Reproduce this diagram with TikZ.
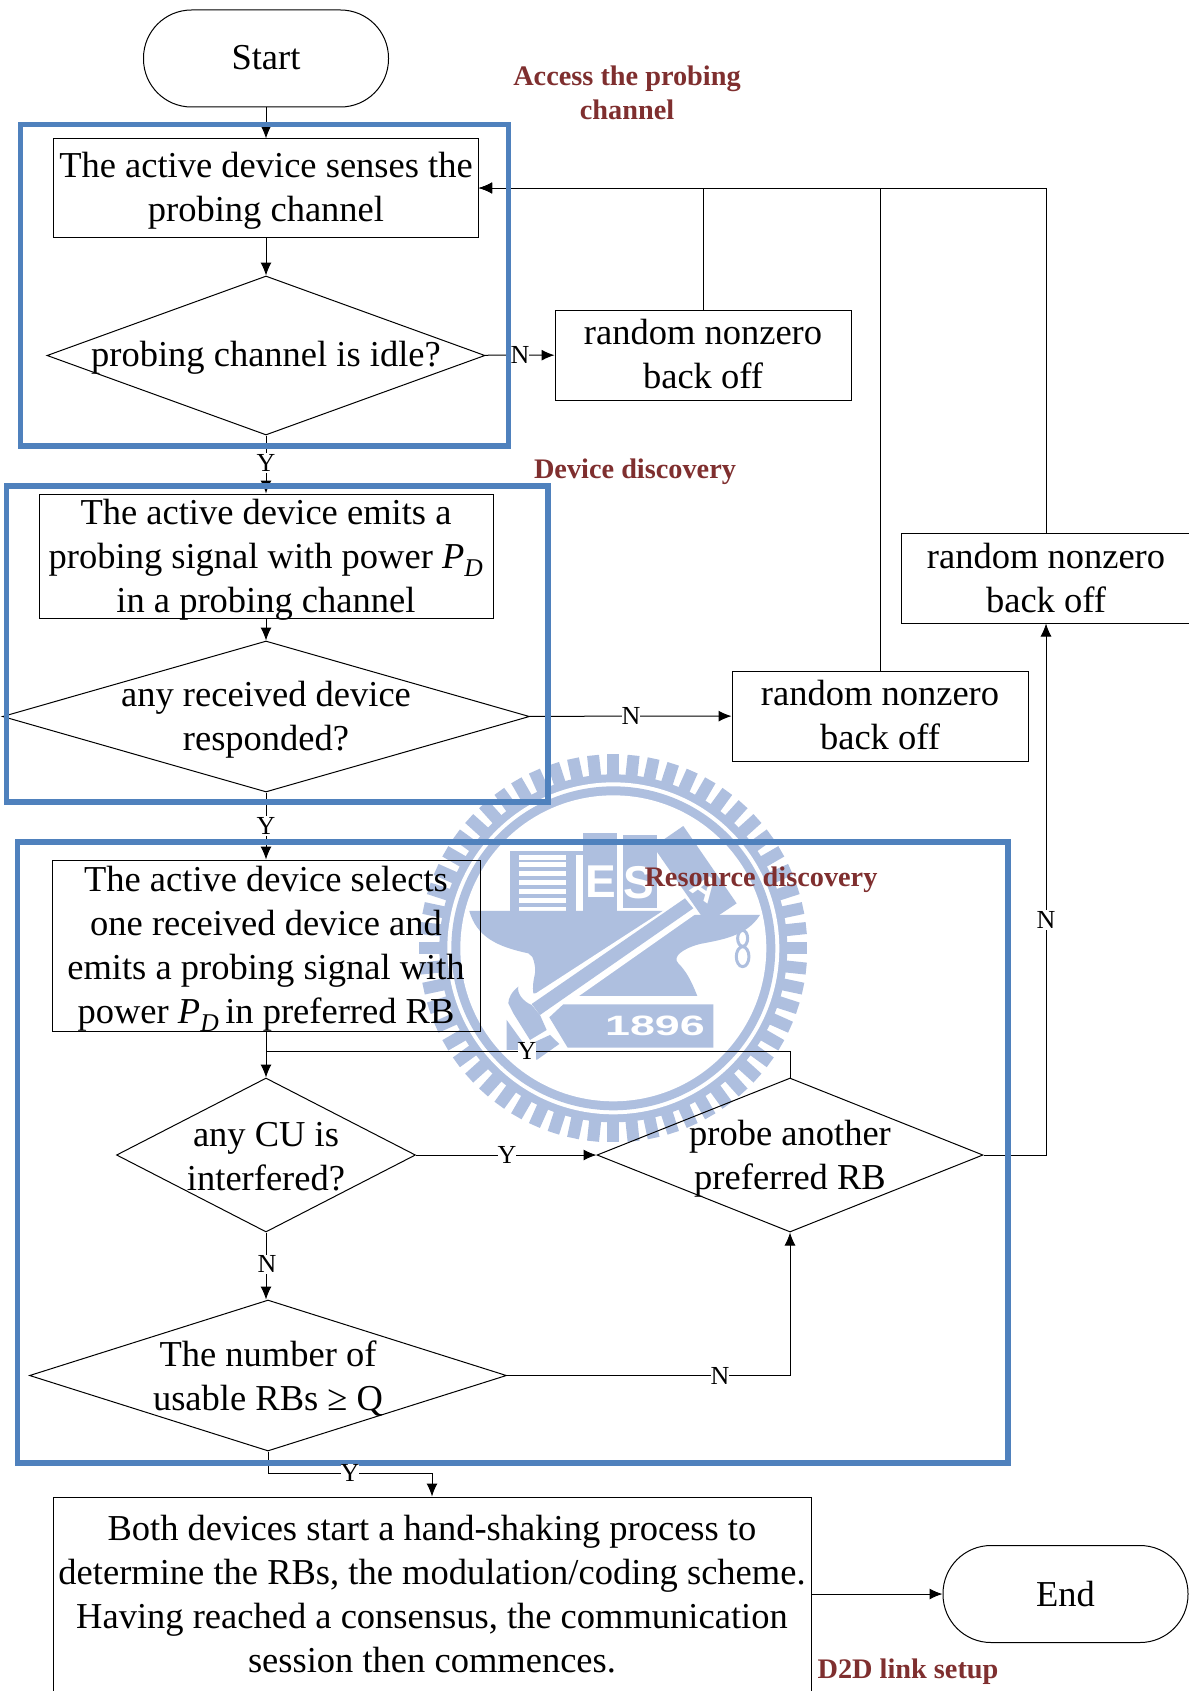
\documentclass[tikz,border=0pt]{standalone}
\usepackage{fontspec}
\setmainfont{Liberation Serif}
\newfontfamily\wmfont{Liberation Sans}
\usetikzlibrary{shapes.geometric,arrows.meta}
\definecolor{framecol}{HTML}{4F81BD}
\definecolor{notecol}{HTML}{7F2F2F}
\definecolor{wmcol}{HTML}{AEBFDF}
\newcommand{\drop}[1]{\rule{0pt}{\dimexpr25pt+#1\relax}}
\newcommand{\lift}[1]{\rule[-#1]{0pt}{0pt}}
\tikzset{
  stepbox/.style={draw,rectangle,inner xsep=0pt,inner ysep=-20pt,align=center,font=\fontsize{36.5}{44}\selectfont},
  endbox/.style={stepbox,rounded corners=48pt,minimum width=245pt,minimum height=97pt},
  backoff/.style={stepbox,minimum width=296pt,minimum height=90pt},
  decision/.style={draw,diamond,inner sep=-60pt,align=center,font=\fontsize{36.5}{44}\selectfont},
  note/.style={text=notecol,align=center,font=\fontsize{28.3}{34.5}\selectfont\bfseries},
  yesno/.style={fill=white,inner xsep=0pt,inner ysep=1pt,font=\fontsize{26}{28}\selectfont},
  frame/.style={draw=framecol,line width=5.5pt},
  link/.style={line width=1pt,-{Latex[length=13pt,width=11pt]}},
  plain/.style={line width=1pt},
  wmtext/.style={text=white,inner sep=0pt,font=\wmfont\bfseries\fontsize{46}{46}\selectfont}
}
\begin{document}
\begin{tikzpicture}[x=1pt,y=-1pt,line width=1pt]
  \useasboundingbox (0,0) rectangle (1188,1691);

  \begin{scope}[shift={(400,740)},x=0.3333pt,y=-0.3333pt]
    \foreach \a in {0,6,...,354}
      \fill[wmcol,rotate around={\a:(640,625)}] (622,43) rectangle (658,110);
    \fill[wmcol] (640,625) circle[radius=522*0.3333pt];
    \fill[white] (640,625) circle[radius=498*0.3333pt];
    \fill[wmcol] (640,625) circle[radius=486*0.3333pt];
    \fill[white] (640,625) circle[radius=459*0.3333pt];
    \fill[wmcol] (330,333) rectangle (550,513);
    \fill[wmcol] (550,278) rectangle (652,513);
    \fill[wmcol] (668,285) rectangle (772,505);
    \foreach \y in {345,367,394,420,447,473,500}
      \fill[white] (357,\y) rectangle (497,\y+15);
    \fill[white] (527,345) rectangle (548,513);
    \node[wmtext] (wmE) at (604,425) {E};
    \node[wmtext] (wmS) at (717,428) {S};
    \fill[wmcol] (850,258) -- (1010,490) -- (920,550) -- (760,320) -- cycle;
    \node[wmtext,rotate=-35,font=\wmfont\bfseries\fontsize{34}{34}\selectfont] (wmA) at (915,445) {A};
    \fill[wmcol] (208,513) -- (870,513) -- (880,525) -- (1080,525)
      .. controls (1040,590) and (960,600) .. (900,612)
      .. controls (850,625) and (815,650) .. (835,670)
      .. controls (860,695) and (875,725) .. (892,768)
      -- (540,768) -- (400,760)
      .. controls (395,720) and (410,700) .. (405,680)
      .. controls (400,650) and (395,645) .. (385,640)
      .. controls (290,620) and (230,590) .. (208,513) -- cycle;
    \fill[white] (400,765) -- (855,470) -- (890,520) -- (537,768) -- (430,830) -- cycle;
    \fill[wmcol] (395,792) -- (855,475) -- (880,505) -- (420,825) -- cycle;
    \fill[wmcol] (355,740) .. controls (350,760) and (370,785) .. (395,795)
      -- (420,825) -- (440,870) -- (390,900) -- (340,820) -- (325,790)
      .. controls (325,775) and (335,755) .. (355,740) -- cycle;
    \fill[wmcol] (320,840) -- (385,930) -- (320,930) -- cycle;
    \fill[wmcol] (385,915) -- (450,885) -- (478,912) -- (410,960) -- cycle;
    \fill[wmcol] (490,793) -- (940,793) -- (940,923) -- (503,923) -- (448,832) -- cycle;
    \node[wmtext,transform shape,xscale=1.6,font=\wmfont\bfseries\fontsize{28}{28}\selectfont] (wmYear) at (765,857) {1896};
    \draw[wmcol,line width=3pt] (1028,595) ellipse[x radius=15,y radius=24];
    \draw[wmcol,line width=3pt] (1028,650) ellipse[x radius=19,y radius=30];
  \end{scope}

  \node[endbox] (start) at (266,58.5) {Start\lift{2pt}};
  \node[stepbox,minimum width=425pt,minimum height=98pt] (sense) at (266,188) {\drop{6.5pt}The active device senses the\\probing channel};
  \node[decision,minimum width=438pt,minimum height=159pt] (idle) at (266,355.5) {\drop{4pt}probing channel is idle?};
  \node[backoff] (offa) at (703,355) {random nonzero\\back off\lift{3pt}};
  \node[stepbox,minimum width=454pt,minimum height=124pt] (emit) at (266,556) {\drop{7.5pt}The active device emits a\\probing signal with power \textit{P}\textsubscript{\textit{D}}\\in a probing channel};
  \node[decision,minimum width=527pt,minimum height=151pt] (resp) at (266,716.5) {\drop{6.5pt}any received device\\responded?};
  \node[backoff] (offb) at (880,716) {random nonzero\\back off\lift{3pt}};
  \node[backoff,minimum width=290pt] (offc) at (1046,578) {random nonzero\\back off\lift{1pt}};
  \node[stepbox,minimum width=428pt,minimum height=171pt] (select) at (266,945.5) {\drop{6.5pt}The active device selects\\one received device and\\emits a probing signal with\\power \textit{P}\textsubscript{\textit{D}}\kern-3pt{} in preferred RB};
  \node[decision,minimum width=299pt,minimum height=154pt] (cu) at (266,1155) {\drop{2pt}any CU is\\interfered?};
  \node[decision,minimum width=386pt,minimum height=154pt] (probe) at (790,1155) {\drop{8.5pt}probe another\\preferred RB};
  \node[decision,minimum width=477pt,minimum height=151pt] (usable) at (268,1375.5) {\drop{6.5pt}The number of\\usable RBs ≥ Q};
  \node[stepbox,minimum width=758pt,minimum height=195pt] (setup) at (432,1594.5) {Both devices start a hand-shaking process to\\determine the RBs, the modulation/coding scheme.\\Having reached a consensus, the communication\\session then commences.};
  \node[endbox] (end) at (1065.5,1594) {End};

  \coordinate (joina) at (266,1051);
  \coordinate (joinb) at (268,1473);

  \draw[link] (start) -- (sense);
  \draw[link] (sense) -- (idle);
  \draw[link] (idle) -- (emit);
  \draw[link] (emit) -- (resp);
  \draw[link] (resp) -- (select);
  \draw[link] (select.south) -- (cu.north);
  \draw[link] (idle) -- (offa);
  \draw[link] (resp) -- (offb);
  \draw[link] (offa.north) |- (sense.east);
  \draw[link] (offb.north) |- (sense.east);
  \draw[link] (offc.north) |- (sense.east);
  \draw[link] (cu) -- (probe);
  \draw[plain] (probe.north) |- (joina);
  \draw[link] (cu.south) -- (cu.south |- usable.north);
  \draw[link] (usable.east) -| (probe.south);
  \draw[link] (probe.east) -| (offc.south);
  \draw[plain] (usable.south) -- (joinb);
  \draw[link] (joinb) -| (setup.north);
  \draw[link] (setup.east |- end.west) -- (end.west);

  \draw[frame] (20.5,124.5) rectangle (508.5,446);
  \draw[frame] (6.5,486) rectangle (548,802);
  \draw[frame] (17.5,842) rectangle (1008,1463);

  \node[note] (noteaccess) at (627,93) {Access the probing\\channel};
  \node[note] (notedevice) at (635,472) {Device discovery};
  \node[note] (noteresource) at (761,880) {Resource discovery};
  \node[note] (notelink) at (908,1672) {D2D link setup};

  \node[yesno] (ya) at (266,463) {Y};
  \node[yesno] (yb) at (266,826) {Y};
  \node[yesno] (yc) at (527,1051) {Y};
  \node[yesno] (yd) at (507,1155) {Y};
  \node[yesno] (ye) at (350,1473) {Y};
  \node[yesno] (na) at (520,355) {N};
  \node[yesno] (nb) at (631,716) {N};
  \node[yesno] (nc) at (1046,920) {N};
  \node[yesno] (nd) at (267,1264) {N};
  \node[yesno] (ne) at (720,1376) {N};
\end{tikzpicture}
\end{document}
